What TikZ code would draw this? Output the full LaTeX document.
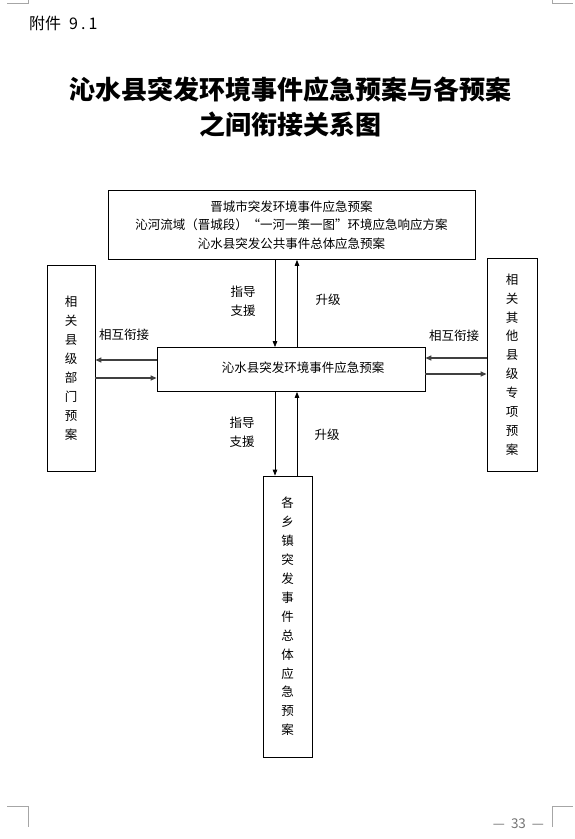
\documentclass[tikz,border=0pt]{standalone}
\usepackage{fontspec}
\setmainfont{Noto Sans CJK SC}
\usetikzlibrary{arrows.meta}

\tikzset{
  planbox/.style={draw,line width=.8pt,inner sep=0pt,align=center,
    font=\fontsize{12.5}{18.5}\selectfont},
  tag/.style={inner sep=0pt,align=center,font=\fontsize{12.5}{19}\selectfont},
  linkarrow/.style={line width=1.4pt,black!75,-{Triangle[length=6pt,width=5pt]}},
  steerarrow/.style={line width=.8pt,-{Triangle[length=6pt,width=4.5pt]}},
  cropmark/.style={black!35,line width=.6pt}
}

\begin{document}
\begin{tikzpicture}[x=1pt,y=-1pt]
  \useasboundingbox (0,0) rectangle (574,839);
  % page decorations
  \draw[cropmark] (7,3) -- (28,3) -- (28,0);
  \draw[cropmark] (552,0) -- (552,3) -- (573,3);
  \draw[cropmark] (7,806) -- (28,806) -- (28,827);
  \draw[cropmark] (552,827) -- (552,806) -- (573,806);
  \node[black!55,inner sep=0pt,font=\fontsize{13.5}{13.5}\selectfont] (pageno) at (518.5,824)
    {—\hspace{6pt}33\hspace{6pt}—};
  \node[anchor=west,inner sep=0pt,font=\fontsize{16}{16}\selectfont] (annex) at (29,23)
    {附件\hspace{8pt}9\hspace{3pt}.\hspace{3pt}1};
  \node[align=center,inner sep=0pt,font=\fontsize{26}{34.5}\selectfont\bfseries] (title)
    at (290.5,107) {沁水县突发环境事件应急预案与各预案\\之间衔接关系图};

  % boxes
  \node[planbox,minimum width=367pt,minimum height=69pt] (city) at (291.5,225)
    {晋城市突发环境事件应急预案\\沁河流域（晋城段）“一河一策一图”环境应急响应方案\\沁水县突发公共事件总体应急预案};
  \node[planbox,minimum width=268pt,minimum height=44pt] (county) at (291,369.5) {};
  \node[tag] (countytxt) at (303,368) {沁水县突发环境事件应急预案};
  \node[planbox,minimum width=48pt,minimum height=206pt,font=\fontsize{12.5}{19}\selectfont]
    (dept) at (71,368) {相\\关\\县\\级\\部\\门\\预\\案};
  \node[planbox,minimum width=50pt,minimum height=213pt,font=\fontsize{12.5}{18.9}\selectfont]
    (special) at (512,364.5) {相\\关\\其\\他\\县\\级\\专\\项\\预\\案};
  \node[planbox,minimum width=49pt,minimum height=281pt,font=\fontsize{12.5}{18.9}\selectfont]
    (town) at (287.5,616.5) {各\\乡\\镇\\突\\发\\事\\件\\总\\体\\应\\急\\预\\案};

  % vertical links
  \draw[steerarrow] (city.south -| 275,0) -- (county.north -| 275,0);
  \draw[steerarrow] (county.north -| 297,0) -- (city.south -| 297,0);
  \draw[steerarrow] (county.south -| 275,0) -- (town.north -| 275,0);
  \draw[steerarrow] (town.north -| 297,0) -- (county.south -| 297,0);
  \node[tag] (guide1) at (243,301) {指导\\支援};
  \node[tag] (rise1) at (328,300) {升级};
  \node[tag] (guide2) at (242,432) {指导\\支援};
  \node[tag] (rise2) at (327,435) {升级};

  % horizontal links
  \draw[linkarrow] (county.west |- 0,360) -- (dept.east |- 0,360);
  \draw[linkarrow] (dept.east |- 0,378) -- (county.west |- 0,378);
  \draw[linkarrow] (special.west |- 0,358) -- (county.east |- 0,358);
  \draw[linkarrow] (county.east |- 0,374) -- (special.west |- 0,374);
  \node[tag] (link1) at (124,335) {相互衔接};
  \node[tag] (link2) at (454,336) {相互衔接};
\end{tikzpicture}
\end{document}
